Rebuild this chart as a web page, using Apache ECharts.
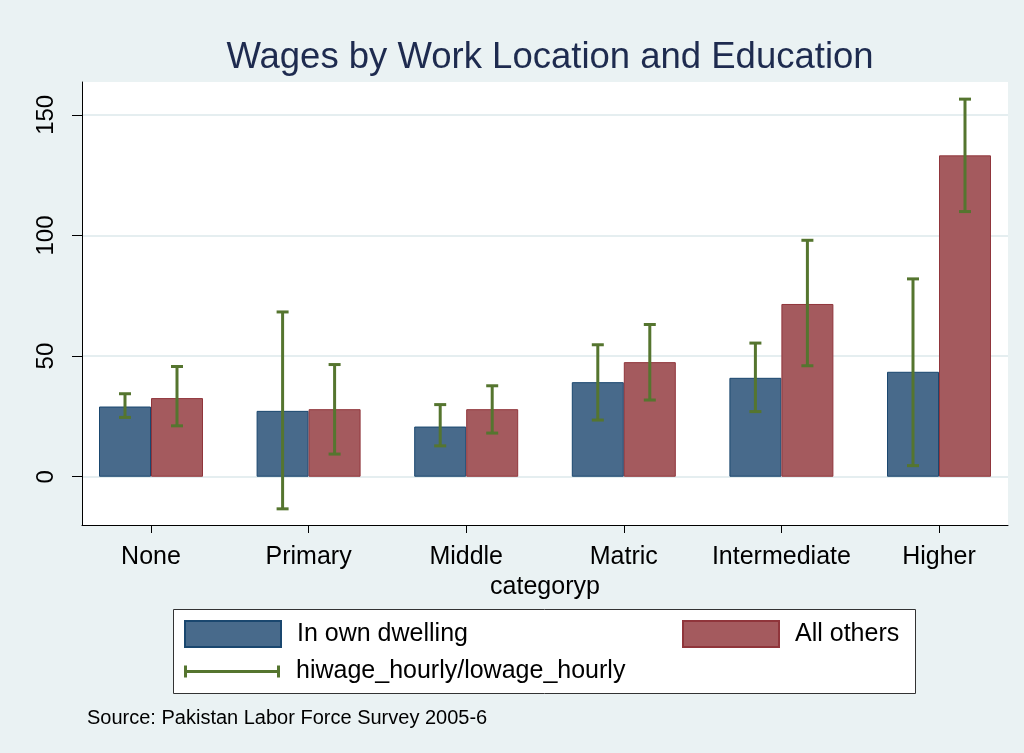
<!DOCTYPE html>
<html>
<head>
<meta charset="utf-8">
<script src="https://cdn.jsdelivr.net/npm/echarts@6/dist/echarts.min.js"></script>
<style>
  html, body { margin: 0; padding: 0; background: #eaf2f3; }
  #chart { width: 1024px; height: 753px; }
</style>
</head>
<body>
<div id="chart"></div>
<script>
    // education levels on the x axis
    var categories = ['None', 'Primary', 'Middle', 'Matric', 'Intermediate', 'Higher'];
    // mean hourly wage
    var ownDwelling = [29.1, 27.3, 20.8, 39.2, 41.0, 43.5];
    var allOthers = [32.6, 28.0, 28.0, 47.5, 71.6, 133.2];
    // hiwage_hourly / lowage_hourly
    var ownHigh = [34.4, 68.3, 29.9, 54.7, 55.4, 82.0];
    var ownLow = [24.6, -13.3, 12.8, 23.5, 27.0, 4.6];
    var othHigh = [45.7, 46.5, 37.7, 63.1, 98.0, 156.5];
    var othLow = [21.1, 9.4, 18.1, 31.8, 46.0, 109.9];
    var yTicks = [0, 50, 100, 150];

    var font = 'Liberation Sans';
    var yMin = -20, yMax = 163.6;

    var errData = [];
    for (var i = 0; i < categories.length; i++) {
        errData.push([i, ownLow[i], ownHigh[i], -1]);
        errData.push([i, othLow[i], othHigh[i], 1]);
    }

    function renderErr(params, api) {
        var off = api.value(3) * 26;
        var lo = api.coord([api.value(0), api.value(1)]);
        var hi = api.coord([api.value(0), api.value(2)]);
        var x = lo[0] + off;
        var cap = 6;
        var style = { stroke: '#55752f', lineWidth: 3 };
        return {
            type: 'group',
            children: [
                { type: 'line', shape: { x1: x, y1: lo[1], x2: x, y2: hi[1] }, style: style },
                { type: 'line', shape: { x1: x - cap, y1: lo[1], x2: x + cap, y2: lo[1] }, style: style },
                { type: 'line', shape: { x1: x - cap, y1: hi[1], x2: x + cap, y2: hi[1] }, style: style }
            ]
        };
    }

    var legendText = { fontFamily: font, fontSize: 25, color: '#000', padding: [0, 0, 0, 11] };
    var errIcon = 'path://M0,0h3v12h-3z M0,4.5h96v3h-96z M93,0h3v12h-3z';

    var chart = echarts.init(document.getElementById('chart'));
    chart.setOption({
        backgroundColor: '#eaf2f3',
        textStyle: { fontFamily: font },
        title: [
            {
                text: 'Wages by Work Location and Education',
                left: 545, top: 34, textAlign: 'center',
                textStyle: { fontFamily: font, fontSize: 36.5, fontWeight: 'normal', color: '#1e2b4f' }
            },
            {
                text: 'Source: Pakistan Labor Force Survey 2005-6',
                left: 82, top: 703,
                textStyle: { fontFamily: font, fontSize: 20, fontWeight: 'normal', color: '#000' }
            }
        ],
        graphic: [
            {
                type: 'rect', z: 1,
                shape: { x: 173.5, y: 609.5, width: 742, height: 84 },
                style: { fill: '#fff', stroke: '#333', lineWidth: 1 }
            }
        ],
        legend: [
            {
                left: 179, top: 615, z: 5, itemWidth: 96, itemHeight: 26,
                data: [{ name: 'In own dwelling', icon: 'rect' }], textStyle: legendText
            },
            {
                left: 677, top: 615, z: 5, itemWidth: 96, itemHeight: 26,
                data: [{ name: 'All others', icon: 'rect' }], textStyle: legendText
            },
            {
                left: 179, top: 654, z: 5, itemWidth: 96, itemHeight: 26,
                data: [{ name: 'hiwage_hourly/lowage_hourly', icon: errIcon }], textStyle: legendText
            }
        ],
        grid: [
            { left: 72.2, right: 6.2, top: 82, bottom: 228 },
            { left: 82, right: 16, top: 82, bottom: 228, show: true, backgroundColor: '#fff', borderWidth: 0, z: 0 }
        ],
        xAxis: [
            {
                type: 'category', gridIndex: 0, data: categories,
                axisLine: { show: false, onZero: false },
                axisTick: { show: true, alignWithLabel: true, interval: 0, length: 8, lineStyle: { color: '#000', width: 1 } },
                axisLabel: { interval: 0, hideOverlap: false, fontSize: 25, color: '#000', margin: 20 },
                name: 'categoryp', nameLocation: 'middle', nameGap: 44,
                nameTextStyle: { fontSize: 25, color: '#000' }
            },
            {
                type: 'value', gridIndex: 1, min: 0, max: 1,
                axisLine: { show: true, onZero: false, lineStyle: { color: '#000', width: 1 } },
                axisTick: { show: false }, axisLabel: { show: false }, splitLine: { show: false }
            }
        ],
        yAxis: [
            { type: 'value', gridIndex: 0, min: yMin, max: yMax, show: false },
            {
                type: 'value', gridIndex: 1, min: yMin, max: yMax,
                axisLine: { show: true, lineStyle: { color: '#000', width: 1 } },
                axisTick: { show: true, length: 10, customValues: yTicks, lineStyle: { color: '#000' } },
                axisLabel: { customValues: yTicks, rotate: 90, fontSize: 24, color: '#000', margin: 24 },
                splitLine: { show: true, customValues: yTicks, lineStyle: { color: '#e5eef0', width: 2 } }
            }
        ],
        series: [
            {
                name: 'In own dwelling', type: 'bar', data: ownDwelling,
                xAxisIndex: 0, yAxisIndex: 0, barWidth: 52, barGap: '0%', z: 3,
                itemStyle: { color: '#486a8b', borderColor: '#1a476f', borderWidth: 1 }
            },
            {
                name: 'All others', type: 'bar', data: allOthers,
                xAxisIndex: 0, yAxisIndex: 0, barWidth: 52, barGap: '0%', z: 3,
                itemStyle: { color: '#a45a5e', borderColor: '#90353b', borderWidth: 1 }
            },
            {
                name: 'hiwage_hourly/lowage_hourly', type: 'custom',
                xAxisIndex: 0, yAxisIndex: 0, z: 4,
                renderItem: renderErr, data: errData,
                itemStyle: { color: '#55752f' },
                encode: { x: 0, y: [1, 2] }
            }
        ]
    });
</script>
</body>
</html>
